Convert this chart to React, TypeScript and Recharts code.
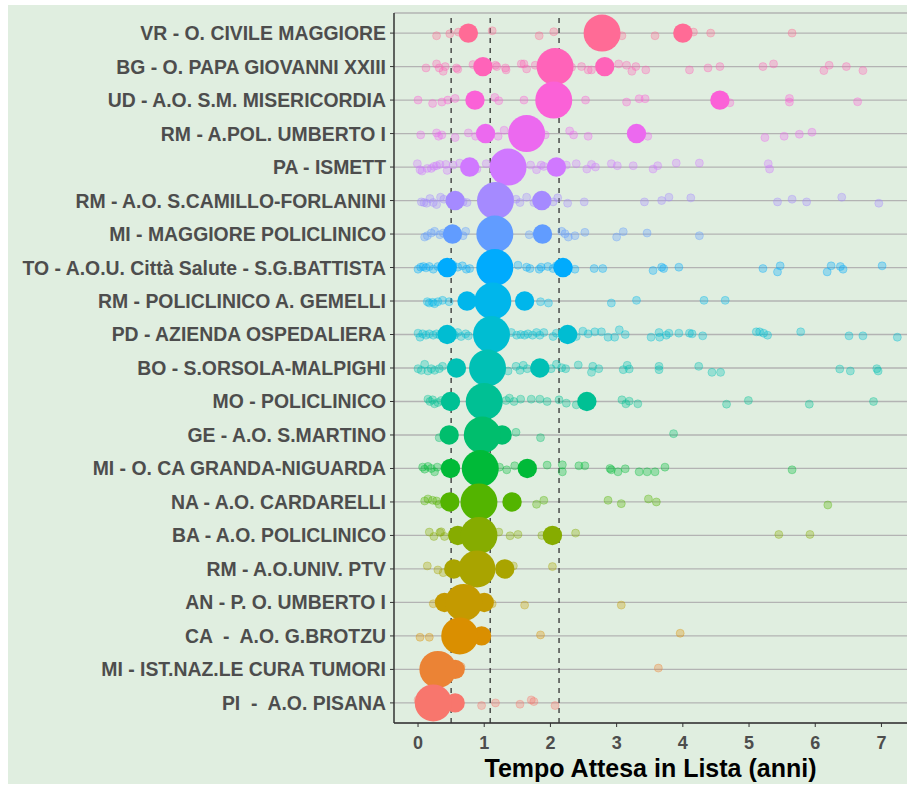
import { ScatterChart, Scatter, XAxis, YAxis, CartesianGrid, ReferenceLine } from "recharts";

// hospitals, top row first
const HOSPITALS = [
  "VR - O. CIVILE MAGGIORE",
  "BG - O. PAPA GIOVANNI XXIII",
  "UD - A.O. S.M. MISERICORDIA",
  "RM - A.POL. UMBERTO I",
  "PA - ISMETT",
  "RM - A.O. S.CAMILLO-FORLANINI",
  "MI - MAGGIORE POLICLINICO",
  "TO - A.O.U. Città Salute - S.G.BATTISTA",
  "RM - POLICLINICO A. GEMELLI",
  "PD - AZIENDA OSPEDALIERA",
  "BO - S.ORSOLA-MALPIGHI",
  "MO - POLICLINICO",
  "GE - A.O. S.MARTINO",
  "MI - O. CA GRANDA-NIGUARDA",
  "NA - A.O. CARDARELLI",
  "BA - A.O. POLICLINICO",
  "RM - A.O.UNIV. PTV",
  "AN - P. O. UMBERTO I",
  "CA  -  A.O. G.BROTZU",
  "MI - IST.NAZ.LE CURA TUMORI",
  "PI  -  A.O. PISANA",
];

const MEDIAN = [2.78, 2.07, 2.05, 1.64, 1.36, 1.17, 1.16, 1.16, 1.13, 1.11, 1.05, 1.0, 0.97, 0.94, 0.92, 0.92, 0.89, 0.69, 0.63, 0.3, 0.23];
const Q1 = [0.76, 0.98, 0.86, 1.02, 0.78, 0.56, 0.52, 0.44, 0.74, 0.44, 0.58, 0.49, 0.47, 0.49, 0.48, 0.6, 0.54, 0.4, null, null, null];
const Q3 = [4.0, 2.82, 4.56, 3.3, 2.09, 1.87, 1.88, 2.19, 1.61, 2.26, 1.84, 2.55, 1.27, 1.65, 1.42, 2.03, 1.31, 1.0, 0.96, 0.56, 0.56];

// single waits: [anni, jitter in rows]
const WAITS: number[][][] = [
  [[0.28,-0.08],[0.48,-0.02],[0.61,0.03],[1.12,0.07],[1.83,-0.08],[2.05,0.04],[3.08,-0.08],[3.58,-0.08],[4.16,0.03],[4.42,0],[5.65,0]],
  [[0.12,-0.04],[0.28,0.08],[0.32,-0.04],[0.38,-0.14],[0.41,0],[0.58,-0.04],[0.6,-0.08],[0.83,0.06],[1.17,0.04],[1.19,0],[1.32,-0.04],[1.33,-0.1],[1.56,0.08],[1.6,0.08],[1.64,-0.07],[1.77,0.04],[2.32,-0.02],[2.47,0],[2.57,-0.1],[2.62,-0.1],[3.03,0.08],[3.15,0.04],[3.23,-0.14],[3.29,0],[3.44,-0.1],[4.1,-0.1],[4.38,-0.04],[4.56,0],[5.21,0],[5.37,0.08],[6.13,-0.12],[6.21,0.04],[6.47,0],[6.72,-0.12]],
  [[0.0,0],[0.22,-0.1],[0.36,-0.06],[0.45,0],[0.56,0.05],[1.16,0.08],[1.22,-0.02],[1.6,0],[2.53,0],[3.15,-0.06],[3.34,0.04],[3.43,0.04],[4.71,-0.08],[5.61,0.05],[5.61,-0.06],[6.64,-0.05]],
  [[0.04,-0.04],[0.28,0.02],[0.31,-0.08],[0.36,-0.04],[0.56,-0.12],[0.76,0.02],[0.87,-0.08],[1.21,-0.08],[1.3,0.1],[1.92,-0.04],[2.29,0.08],[2.35,-0.04],[2.57,-0.08],[3.47,-0.08],[5.24,-0.12],[5.53,-0.08],[5.76,-0.02],[5.95,0.04]],
  [[-0.01,0.1],[0.03,-0.08],[0.06,-0.12],[0.14,-0.04],[0.2,-0.04],[0.24,0.02],[0.28,0.04],[0.33,0.08],[0.42,0.08],[0.44,-0.1],[0.53,0.06],[0.63,0.12],[0.89,-0.06],[1.03,0.1],[1.7,0.06],[1.79,-0.08],[1.86,0.06],[1.9,0.02],[2.24,0.06],[2.39,0.1],[2.55,-0.06],[2.62,0.08],[2.68,0],[2.92,0.1],[3.01,0.04],[3.25,0.04],[3.55,-0.06],[3.62,0.04],[3.9,0.12],[4.25,0.12],[5.29,0.1],[5.31,-0.06]],
  [[0.05,-0.04],[0.09,-0.06],[0.13,-0.08],[0.18,0.06],[0.23,-0.06],[0.28,-0.12],[0.34,0.1],[0.39,0.04],[0.63,0.06],[0.68,-0.04],[0.74,-0.06],[1.48,0.04],[1.54,-0.06],[1.64,0.1],[1.75,-0.06],[2.04,-0.04],[2.11,0.08],[2.26,-0.08],[2.51,-0.04],[3.42,-0.04],[3.68,0],[3.79,0.1],[4.12,0.08],[5.43,-0.04],[5.65,0.04],[5.87,-0.04],[6.4,0.1],[6.96,-0.08]],
  [[0.1,-0.09],[0.14,-0.05],[0.2,0.03],[0.25,0.08],[0.33,-0.02],[0.38,0.03],[0.68,-0.05],[0.72,0.08],[1.68,-0.02],[2.17,0.08],[2.22,0.01],[2.27,-0.09],[2.37,-0.05],[2.52,0.05],[3.0,-0.09],[3.1,0.07],[3.46,0.03],[4.25,-0.05]],
  [[0.0,-0.05],[0.04,0.01],[0.08,0.03],[0.12,-0.01],[0.17,0.03],[0.23,-0.05],[0.3,0.03],[0.35,0.01],[0.53,0.07],[0.6,0.01],[0.67,0.05],[0.73,-0.05],[0.78,-0.03],[1.51,0.07],[1.64,0.01],[1.69,-0.03],[1.83,-0.05],[1.86,0.01],[1.96,0.03],[2.04,-0.03],[2.09,0.05],[2.37,-0.05],[2.66,-0.03],[2.79,-0.03],[3.55,-0.09],[3.68,0.01],[3.71,-0.03],[3.94,0.01],[5.21,-0.03],[5.43,-0.13],[5.47,0.05],[6.18,-0.13],[6.24,0.05],[6.38,0.03],[6.42,-0.05],[7.01,0.05]],
  [[0.14,-0.02],[0.17,-0.06],[0.22,-0.04],[0.25,-0.08],[0.3,-0.02],[0.37,0.02],[0.47,-0.02],[1.85,-0.02],[1.97,-0.06],[2.92,-0.06],[3.3,0.02],[4.32,0.02],[4.64,0.02]],
  [[0.0,0.04],[0.03,-0.08],[0.07,0.02],[0.12,-0.02],[0.17,0.02],[0.23,-0.02],[0.28,0.02],[0.33,-0.02],[0.55,-0.02],[0.6,0.06],[0.65,-0.06],[0.72,0.02],[0.76,-0.04],[1.41,0.06],[1.49,-0.02],[1.55,0],[1.61,-0.02],[1.66,0.02],[1.73,-0.02],[1.79,0.06],[1.84,-0.02],[1.9,0.06],[2.04,-0.06],[2.09,0.04],[2.39,-0.06],[2.49,0.1],[2.57,0.02],[2.67,0.08],[2.77,0.08],[2.87,-0.08],[2.97,-0.08],[3.04,0.14],[3.13,0],[3.52,-0.08],[3.64,0.06],[3.65,-0.08],[3.75,-0.02],[3.79,0.04],[3.94,0.04],[4.1,0.04],[4.14,0.02],[4.3,-0.04],[5.11,0.08],[5.16,0.08],[5.22,0.04],[5.28,-0.02],[5.78,0.08],[6.51,-0.04],[6.72,-0.04],[7.24,-0.08]],
  [[0.0,-0.02],[0.05,-0.07],[0.1,0.11],[0.15,-0.09],[0.2,-0.02],[0.25,-0.07],[0.32,-0.02],[0.37,0.05],[1.36,-0.09],[1.48,0.05],[1.54,-0.07],[1.59,0.08],[1.65,-0.02],[2.01,-0.02],[2.09,0.11],[2.17,0.01],[2.23,-0.02],[2.42,0.09],[2.62,-0.13],[2.64,0.05],[2.73,-0.02],[3.1,-0.05],[3.16,0.08],[3.19,-0.03],[3.64,0.05],[3.64,-0.05],[4.24,0.05],[4.44,-0.13],[4.57,-0.13],[6.37,-0.03],[6.53,-0.09],[6.93,-0.02],[6.95,-0.09]],
  [[0.15,0.07],[0.18,0],[0.22,0.05],[0.25,-0.07],[0.3,-0.03],[0.35,0.03],[1.33,0.03],[1.38,0.1],[1.45,0],[1.55,0.07],[1.71,0.07],[1.84,0.07],[1.95,0],[2.13,0.05],[2.24,-0.05],[2.39,-0.1],[3.08,0.05],[3.14,-0.07],[3.19,0.01],[3.32,-0.07],[4.66,-0.08],[4.99,0.03],[5.91,-0.08],[6.88,0]],
  [[0.32,-0.08],[1.48,0.08],[1.85,-0.08],[3.86,0.04]],
  [[0.07,0.04],[0.1,-0.02],[0.15,0.06],[0.2,0],[0.25,-0.1],[0.29,0.04],[1.23,0.04],[1.34,-0.04],[1.46,0.08],[1.95,0.1],[2.18,0.11],[2.18,-0.1],[2.43,0.08],[2.52,0.08],[2.9,0],[2.92,-0.04],[3.02,-0.1],[3.13,-0.01],[3.34,-0.1],[3.46,-0.1],[3.58,-0.1],[3.73,0.04],[5.65,-0.04]],
  [[0.1,0.03],[0.15,0.09],[0.22,0.05],[0.28,0.03],[0.32,-0.07],[1.79,-0.07],[1.9,0.05],[2.87,0.05],[3.07,-0.05],[3.48,0.09],[3.6,0],[6.19,-0.09]],
  [[0.17,0.1],[0.24,-0.03],[0.33,0.09],[0.35,0.11],[0.4,-0.03],[1.22,0.1],[1.39,-0.01],[1.51,0.03],[1.87,0],[2.38,0.07],[5.45,0.03],[5.92,0.03]],
  [[0.14,0.09],[0.3,-0.03],[0.38,-0.11],[1.44,0.09],[2.03,0.07]],
  [[0.23,-0.04],[1.12,-0.04],[1.61,-0.08],[3.07,-0.08]],
  [[0.03,-0.04],[0.17,-0.04],[1.85,0.03],[3.96,0.08]],
  [[0.65,0.08],[3.63,0.04]],
  [[0.0,0.09],[0.96,-0.08],[1.17,0],[1.54,-0.04],[1.71,0.09],[1.75,0.04],[2.07,-0.08]],
];

const X_TICKS = [0, 1, 2, 3, 4, 5, 6, 7];
const CUTOFFS = [0.5, 1.09, 2.13];

const FONT = "'Liberation Sans', Arial, sans-serif";
const N = HOSPITALS.length;

// ggplot-style hue palette (HCL, c=100, l=65)
function hcl(h: number, c: number, l: number) {
  const hr = (h * Math.PI) / 180;
  const U = c * Math.cos(hr), V = c * Math.sin(hr);
  const Y = 100 * Math.pow((l + 16) / 116, 3);
  const xn = 95.047, yn = 100, zn = 108.883;
  const t = xn + 15 * yn + 3 * zn;
  const u = U / (13 * l) + (4 * xn) / t;
  const v = V / (13 * l) + (9 * yn) / t;
  const X = (9 * Y * u) / (4 * v);
  const Z = (Y * (12 - 3 * u - 20 * v)) / (4 * v);
  const x = X / 100, y = Y / 100, z = Z / 100;
  const lin = [
    3.240479 * x - 1.53715 * y - 0.498535 * z,
    -0.969256 * x + 1.875992 * y + 0.041556 * z,
    0.055648 * x - 0.204043 * y + 1.057311 * z,
  ];
  return "#" + lin.map(c0 => {
    const g = c0 <= 0.0031308 ? 12.92 * c0 : 1.055 * Math.pow(c0, 1 / 2.4) - 0.055;
    const n = Math.round(Math.min(1, Math.max(0, g)) * 255);
    return n.toString(16).padStart(2, "0");
  }).join("");
}

const COLORS = HOSPITALS.map((_, i) => hcl(15 + ((N - 1 - i) * 360) / N, 100, 65));
const Y_TICKS = HOSPITALS.map((_, i) => N - 1 - i);

const waitPoints = HOSPITALS.flatMap((_, i) => WAITS[i].map(([x, j]) => ({ x, y: N - 1 - i + j, row: i })));
const quartilePoints = HOSPITALS.flatMap((_, i) =>
  [Q1[i], Q3[i]].filter((q): q is number => q !== null).map(x => ({ x, y: N - 1 - i, row: i }))
);
const medianPoints = HOSPITALS.map((_, i) => ({ x: MEDIAN[i], y: N - 1 - i, row: i }));

// eslint-disable-next-line @typescript-eslint/no-explicit-any
const WaitDot = (p: any) => (
  <circle cx={p.cx} cy={p.cy} r={4.0} fill={COLORS[p.payload.row]} fillOpacity={0.32}
    stroke={COLORS[p.payload.row]} strokeOpacity={0.32} strokeWidth={1} />
);
// eslint-disable-next-line @typescript-eslint/no-explicit-any
const QuartileDot = (p: any) => <circle cx={p.cx} cy={p.cy} r={9.7} fill={COLORS[p.payload.row]} />;
// eslint-disable-next-line @typescript-eslint/no-explicit-any
const MedianDot = (p: any) => <circle cx={p.cx} cy={p.cy} r={18.5} fill={COLORS[p.payload.row]} />;

// eslint-disable-next-line @typescript-eslint/no-explicit-any
function HospitalTick({ x, y, payload }: any) {
  return (
    <text x={x} y={y} dy="0.36em" textAnchor="end" fontSize={19.4} fontWeight={700}
      fill="#4d4d4d" fontFamily={FONT} style={{ whiteSpace: "pre" }}>
      {HOSPITALS[N - 1 - payload.value]}
    </text>
  );
}

export default function App() {
  return (
    <div style={{ position: "absolute", left: 0, top: 0, width: 907, height: 785, background: "#fff" }}>
      <div style={{ position: "absolute", left: 8, top: 5, right: 0, bottom: 1, background: "#E0EEE0" }} />
      <div style={{ position: "absolute", left: 0, top: 0 }}>
        <ScatterChart width={907} height={785} margin={{ top: 13, right: 0, bottom: 0, left: 0 }}>
          <CartesianGrid vertical={false} stroke="#b3b3b3" strokeWidth={1.3} />
          <XAxis
            type="number"
            dataKey="x"
            domain={[-0.363, 7.386]}
            ticks={X_TICKS}
            allowDataOverflow
            height={62}
            tickSize={4}
            tickMargin={9}
            axisLine={{ stroke: "#333", strokeWidth: 1.5 }}
            tickLine={{ stroke: "#333" }}
            tick={{ fontSize: 18, fontWeight: 700, fill: "#4d4d4d", fontFamily: FONT }}
            label={{
              value: "Tempo Attesa in Lista (anni)",
              position: "insideBottom",
              offset: 8,
              fontSize: 25,
              fontWeight: 700,
              fill: "#000",
              fontFamily: FONT,
              style: { fontSize: 25, fontWeight: 700, fill: "#000", fontFamily: FONT },
            }}
          />
          <YAxis
            type="number"
            dataKey="y"
            domain={[-0.6, N - 0.4]}
            ticks={Y_TICKS}
            interval={0}
            width={394}
            tickSize={4}
            tickMargin={4}
            axisLine={{ stroke: "#333", strokeWidth: 1.5 }}
            tickLine={{ stroke: "#333" }}
            tick={<HospitalTick />}
          />
          {CUTOFFS.map(c => (
            <ReferenceLine key={c} x={c} stroke="#333" strokeWidth={1.3} strokeDasharray="5 5" zIndex={-50} />
          ))}
          <Scatter data={waitPoints} shape={WaitDot} isAnimationActive={false} />
          <Scatter data={quartilePoints} shape={QuartileDot} isAnimationActive={false} />
          <Scatter data={medianPoints} shape={MedianDot} isAnimationActive={false} />
        </ScatterChart>
      </div>
    </div>
  );
}
